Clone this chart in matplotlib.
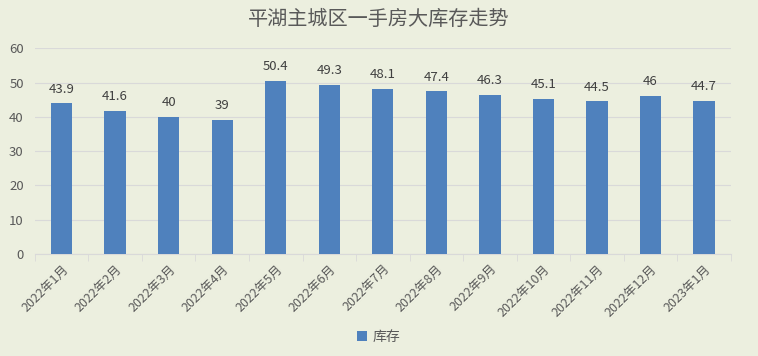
import matplotlib
matplotlib.use("Agg")
import matplotlib.pyplot as plt
import numpy as np

plt.rcParams['font.family'] = ['Noto Sans CJK SC', 'DejaVu Sans']

# data
months = ['2022年1月', '2022年2月', '2022年3月', '2022年4月', '2022年5月', '2022年6月',
          '2022年7月', '2022年8月', '2022年9月', '2022年10月', '2022年11月', '2022年12月',
          '2023年1月']
stock = [43.9, 41.6, 40, 39, 50.4, 49.3, 48.1, 47.4, 46.3, 45.1, 44.5, 46, 44.7]
labels = ['43.9', '41.6', '40', '39', '50.4', '49.3', '48.1', '47.4', '46.3', '45.1', '44.5', '46', '44.7']

bg = '#ECEFDF'
txt = '#595959'

fig = plt.figure(figsize=(7.58, 3.56), dpi=100, facecolor=bg)
ax = fig.add_axes([0.046, 0.2865, 0.918, 0.578], facecolor=bg)

x = np.arange(len(months))
bars = ax.bar(x, stock, width=0.4, color='#4F81BD', label='库存', zorder=3)
for xi, v, lab in zip(x, stock, labels):
    ax.text(xi, v + 2.3, lab, ha='center', va='bottom', fontsize=9.5, color='#404040')

ax.set_xlim(-0.5, len(months) - 0.5)
ax.set_ylim(0, 60)
ax.set_yticks(range(0, 61, 10))
ax.grid(axis='y', color='#D9D9D9', linewidth=0.8, zorder=0)
ax.set_axisbelow(True)

ax.set_xticks(x)
ax.set_xticklabels(months, rotation=45, ha='right', rotation_mode='anchor', fontsize=9, color=txt)
ax.set_xticks(np.arange(-0.5, len(months), 1), minor=True)
ax.tick_params(axis='x', which='major', length=0, pad=6)
ax.tick_params(axis='x', which='minor', length=5, color='#D9D9D9')
ax.tick_params(axis='y', length=0, labelsize=9.5, labelcolor=txt, pad=8)

for s in ['top', 'right', 'left']:
    ax.spines[s].set_visible(False)
ax.spines['bottom'].set_color('#D9D9D9')

fig.suptitle('平湖主城区一手房大库存走势', x=0.5, y=0.975, fontsize=14.5, color=txt)

fig.legend(loc='lower center', bbox_to_anchor=(0.5, 0.0), frameon=False, fontsize=10,
           handlelength=0.7, handleheight=0.7, handletextpad=0.4, labelcolor=txt)

fig.savefig('out.png', dpi=100, facecolor=bg)
